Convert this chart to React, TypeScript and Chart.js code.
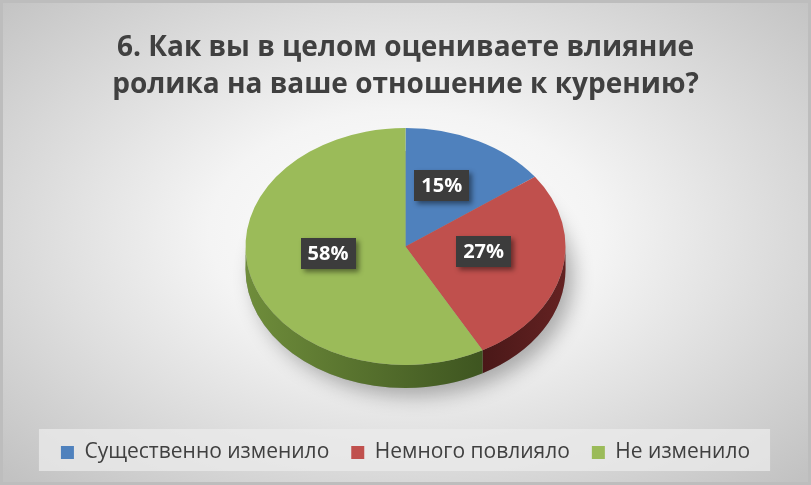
import React, { useEffect, useRef } from "react";
import { Chart, registerables } from "chart.js";

Chart.register(...registerables);

const titleLines = [
  "6. Как вы в целом оцениваете влияние",
  "ролика на ваше отношение к курению?",
];
const categories = ["Существенно изменило", "Немного повлияло", "Не изменило"];
const values = [15, 27, 58];
const topColors = ["#4f81bd", "#c0504d", "#9bbb59"];
const sideColors = [
  ["#2f5480", "#3a6597"],
  ["#4a1818", "#642222"],
  ["#6f8d3b", "#3e5520"],
];

const W = 811;
const H = 485;
const FONT = "'Open Sans', 'DejaVu Sans', sans-serif";
const TILT = 118.5 / 160;
const CENTER_Y = 246.5;
const DEPTH = 23;
const LABEL_DY = -8;

const pie3dPlugin = {
  id: "pie3d",
  beforeDraw(chart: any) {
    const ctx = chart.ctx;
    ctx.save();
    ctx.translate(W / 2, H / 2 - 10);
    ctx.scale(1, 0.62);
    const g = ctx.createRadialGradient(0, 0, 0, 0, 0, 560);
    g.addColorStop(0, "#ffffff");
    g.addColorStop(0.35, "#f4f4f4");
    g.addColorStop(1, "#c2c2c2");
    ctx.fillStyle = g;
    ctx.fillRect(-W, -H * 2, W * 2, H * 4);
    ctx.restore();
    ctx.save();
    ctx.strokeStyle = "#bdbdbd";
    ctx.lineWidth = 3;
    ctx.strokeRect(1.5, 1.5, W - 3, H - 3);
    ctx.restore();
    const lg = chart.legend;
    if (lg && lg.legendHitBoxes && lg.legendHitBoxes.length) {
      let minX = Infinity, maxX = -Infinity;
      lg.legendHitBoxes.forEach((b: any) => {
        minX = Math.min(minX, b.left);
        maxX = Math.max(maxX, b.left + b.width);
      });
      ctx.save();
      ctx.fillStyle = "rgba(235,235,235,0.75)";
      ctx.fillRect(minX - 22, 429, maxX - minX + 42, 42);
      ctx.restore();
    }
  },
  beforeDatasetsDraw(chart: any) {
    const ctx = chart.ctx;
    const meta = chart.getDatasetMeta(0);
    const arcs = meta.data;
    if (!arcs.length) return;
    const cx = arcs[0].x;
    const cy = arcs[0].y;
    const R = arcs[0].outerRadius;
    const rx = R;
    const ry = R * TILT;
    ctx.save();
    ctx.shadowColor = "rgba(0,0,0,0.3)";
    ctx.shadowBlur = 20;
    ctx.shadowOffsetX = 8;
    ctx.shadowOffsetY = 8;
    ctx.fillStyle = "#9a9a9a";
    ctx.beginPath();
    ctx.ellipse(cx, CENTER_Y + DEPTH, rx, ry, 0, 0, Math.PI * 2);
    ctx.fill();
    ctx.restore();
    arcs.forEach((arc: any, i: number) => {
      const a = Math.max(arc.startAngle, 0);
      const b = Math.min(arc.endAngle, Math.PI);
      if (a >= b) return;
      const x1 = cx + rx * Math.cos(a);
      const x2 = cx + rx * Math.cos(b);
      const grad = ctx.createLinearGradient(Math.min(x1, x2), 0, Math.max(x1, x2), 0);
      const [c1, c2] = sideColors[i];
      grad.addColorStop(0, c1);
      grad.addColorStop(1, c2);
      ctx.save();
      ctx.beginPath();
      ctx.ellipse(cx, CENTER_Y, rx, ry, 0, a, b, false);
      ctx.lineTo(cx + rx * Math.cos(b), CENTER_Y + DEPTH + ry * Math.sin(b));
      ctx.ellipse(cx, CENTER_Y + DEPTH, rx, ry, 0, b, a, true);
      ctx.closePath();
      ctx.fillStyle = grad;
      ctx.fill();
      ctx.restore();
    });
    ctx.save();
    ctx.translate(0, CENTER_Y);
    ctx.scale(1, TILT);
    ctx.translate(0, -cy);
  },
  afterDatasetsDraw(chart: any) {
    const ctx = chart.ctx;
    ctx.restore();
    const meta = chart.getDatasetMeta(0);
    const arcs = meta.data;
    if (!arcs.length) return;
    const cx = arcs[0].x;
    const R = arcs[0].outerRadius;
    arcs.forEach((arc: any, i: number) => {
      const mid = (arc.startAngle + arc.endAngle) / 2;
      const px = cx + R * 0.5 * Math.cos(mid);
      const py = CENTER_Y + R * 0.5 * TILT * Math.sin(mid) + LABEL_DY;
      const text = values[i] + "%";
      ctx.save();
      ctx.font = `bold 20px ${FONT}`;
      const tw = ctx.measureText(text).width;
      const bw = tw + 14;
      const bh = 31;
      ctx.shadowColor = "rgba(0,0,0,0.45)";
      ctx.shadowBlur = 5;
      ctx.shadowOffsetX = 3;
      ctx.shadowOffsetY = 3;
      ctx.fillStyle = "#3c3c3c";
      ctx.fillRect(Math.round(px - bw / 2), Math.round(py - bh / 2), Math.round(bw), bh);
      ctx.shadowColor = "transparent";
      ctx.fillStyle = "#ffffff";
      ctx.textAlign = "center";
      ctx.textBaseline = "middle";
      ctx.fillText(text, px, py + 1);
      ctx.restore();
    });
  },
};

export default function App() {
  const ref = useRef<HTMLCanvasElement | null>(null);
  useEffect(() => {
    if (!ref.current) return;
    const chart = new Chart(ref.current, {
      type: "pie",
      data: {
        labels: categories,
        datasets: [
          {
            data: values,
            backgroundColor: topColors,
            borderWidth: 0,
            radius: 160,
            clip: false,
          } as any,
        ],
      },
      options: {
        responsive: false,
        animation: false,
        events: [],
        layout: { padding: { bottom: 12 } },
        plugins: {
          title: {
            display: true,
            text: titleLines,
            color: "#404040",
            font: { family: FONT, size: 28, weight: "bold", lineHeight: 1.33 },
            padding: { top: 29, bottom: 0 },
          },
          legend: {
            display: true,
            position: "bottom",
            labels: {
              boxWidth: 13,
              boxHeight: 13,
              color: "#404040",
              font: { family: FONT, size: 21 },
              padding: 22,
            },
          },
          tooltip: { enabled: false },
        },
      },
      plugins: [pie3dPlugin],
    });
    return () => chart.destroy();
  }, []);
  return (
    <div style={{ position: "absolute", left: 0, top: 0, width: W, height: H }}>
      <canvas ref={ref} width={W} height={H} style={{ display: "block" }} />
    </div>
  );
}
